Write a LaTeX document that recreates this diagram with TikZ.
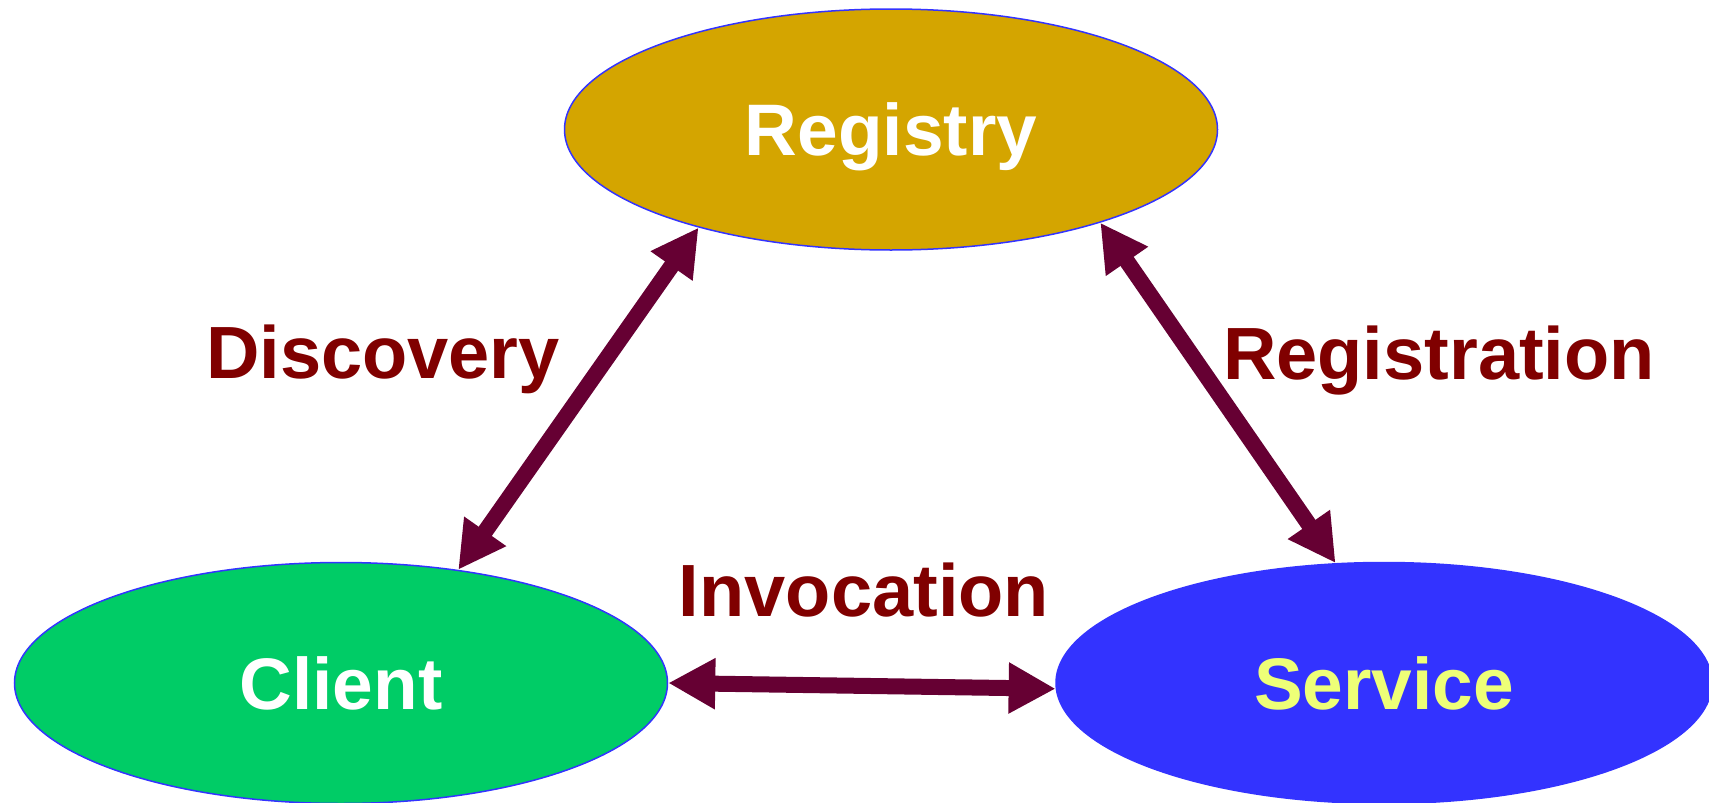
\documentclass[tikz,border=0pt]{standalone}
\usepackage{fontspec}
\setmainfont{Liberation Sans}
\usetikzlibrary{shapes.geometric,arrows.meta}
\definecolor{regfill}{RGB}{212,165,0}
\definecolor{clifill}{RGB}{0,204,102}
\definecolor{svcfill}{RGB}{51,51,255}
\definecolor{bord}{RGB}{51,51,255}
\definecolor{svctext}{RGB}{238,255,119}
\definecolor{labc}{RGB}{128,0,0}
\definecolor{arrc}{RGB}{102,0,51}
\tikzset{
  oval/.style={ellipse, draw=bord, line width=1.5pt, inner sep=0pt,
    minimum width=653pt, minimum height=241pt,
    font=\fontsize{73}{80}\selectfont\bfseries, text height=52pt, text depth=0pt},
  lab/.style={anchor=base, text=labc, inner sep=0pt, font=\fontsize{74}{80}\selectfont\bfseries},
  arr/.style={draw=arrc, line width=16pt,
    {Triangle[length=47pt,width=48pt]}-{Triangle[length=47pt,width=48pt]}}
}
\begin{document}
\begin{tikzpicture}[x=1pt,y=-1pt]
\useasboundingbox (0,0) rectangle (1709,803);
\node[oval, fill=regfill, text=white] (reg) at (891,129.5) {Registry};
\node[oval, fill=clifill, text=white] (cli) at (341,683) {Client};
\node[oval, fill=svcfill, text=svctext, minimum width=656pt] (svc) at (1384,683) {Service};
\node[lab] (ldis) at (383,378) {Discovery};
\node[lab] (lreg) at (1439,379) {Registration};
\node[lab] (linv) at (864,616) {Invocation};
\draw[arr] (cli.44) -- (reg.207);
\draw[arr] (svc.112) -- (reg.336);
\draw[arr] (cli.0) -- (svc.181);
\end{tikzpicture}
\end{document}
